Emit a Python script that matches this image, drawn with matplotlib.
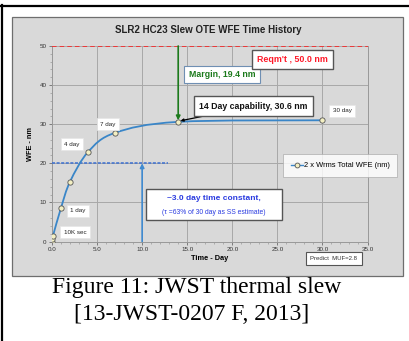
import matplotlib
matplotlib.use("Agg")
import matplotlib.pyplot as plt
from matplotlib.patches import Rectangle, PathPatch
from matplotlib.path import Path
from matplotlib.lines import Line2D

# data
days = [0.0, 0.02, 0.116, 1.0, 2.0, 4.0, 7.0, 14.0, 30.0]
wfe = [0.0, 0.6, 1.5, 8.6, 15.3, 22.9, 27.8, 30.6, 31.0]
x_ticks = [0, 5, 10, 15, 20, 25, 30, 35]
y_ticks = [0, 10, 20, 30, 40, 50]
reqmt = 50.0
tau_level = 20.0
tau_day = 10.0
cap_day = 14.0
cap_val = 30.6

W, H = 409, 341
plt.rcParams['font.family'] = ['Liberation Sans', 'DejaVu Sans']

fig = plt.figure(figsize=(W / 100, H / 100), dpi=100)
fig.patch.set_facecolor('white')


def fx(px):
    return px / W


def fy(py):
    return 1 - py / H


# outer frame lines (left and top)
fig.add_artist(Line2D([fx(1.5), fx(1.5)], [fy(5), 0], color='black', lw=1.6))
fig.add_artist(Line2D([0, fx(408)], [fy(6), fy(6)], color='black', lw=1.6))

# gray chart panel
fig.add_artist(Rectangle((fx(12), fy(276)), fx(403) - fx(12), fy(17) - fy(276),
                         facecolor='#d9d9d9', edgecolor='#6e6e6e', lw=0.9,
                         transform=fig.transFigure, zorder=0))

ax = fig.add_axes([fx(52), fy(241.5), fx(367.5) - fx(52), fy(46) - fy(241.5)])
ax.set_facecolor('#d9d9d9')
ax.set_xlim(0, 35)
ax.set_ylim(0, 50)
ax.set_xticks(x_ticks)
ax.set_xticklabels([f'{v:.1f}' for v in x_ticks])
ax.set_yticks(y_ticks)
ax.set_xticks(range(0, 36), minor=True)
ax.set_yticks(range(0, 51, 2), minor=True)
ax.tick_params(which='major', labelsize=4.5, colors='#555555', labelcolor='#333333',
               length=2, width=0.5, pad=2)
ax.tick_params(which='minor', length=1.4, width=0.4, colors='#888888')
ax.grid(True, which='major', color='#a8a8a8', lw=0.7)
for s in ['left', 'bottom', 'right']:
    ax.spines[s].set_color('#999999')
    ax.spines[s].set_linewidth(0.7)
ax.spines['top'].set_visible(False)
ax.set_axisbelow(True)

ax.set_xlabel('Time - Day', fontsize=5.3, fontweight='bold', labelpad=2)
ax.set_ylabel('WFE - nm', fontsize=5.3, fontweight='bold', labelpad=4)

fig.text(fx(208), fy(30), 'SLR2 HC23 Slew OTE WFE Time History', ha='center',
         va='center', fontsize=7, fontweight='bold', color='#222222')

# requirement line
ax.axhline(reqmt, color='#ff1a1a', lw=1.1, ls=(0, (3, 2)), zorder=3)

# smoothed curve (Catmull-Rom style Bezier through the points, like Excel)
pts = list(zip(days, wfe))
verts = [pts[0]]
codes = [Path.MOVETO]
n = len(pts)
for i in range(n - 1):
    p0 = pts[i - 1] if i > 0 else pts[i]
    p1 = pts[i]
    p2 = pts[i + 1]
    p3 = pts[i + 2] if i + 2 < n else pts[i + 1]
    c1 = (p1[0] + (p2[0] - p0[0]) / 6, p1[1] + (p2[1] - p0[1]) / 6)
    c2 = (p2[0] - (p3[0] - p1[0]) / 6, p2[1] - (p3[1] - p1[1]) / 6)
    verts += [c1, c2, p2]
    codes += [Path.CURVE4] * 3
curve_color = '#3a86c8'
ax.add_patch(PathPatch(Path(verts, codes), facecolor='none', edgecolor=curve_color,
                       lw=1.3, zorder=4))
ax.plot(days, wfe, 'o', ms=3.8, mfc='#f3efc2', mec='#555555', mew=0.6, zorder=5)

handle = Line2D([], [], color=curve_color, lw=1.0, marker='o', ms=3.5,
                mfc='#f3efc2', mec='#555555', mew=0.6)
leg = ax.legend([handle], ['2 x Wrms Total WFE (nm)'], loc='center left',
                bbox_to_anchor=(fx(283), fy(165.5)), bbox_transform=fig.transFigure,
                fontsize=5.4, frameon=True, fancybox=False, handlelength=1.6,
                handletextpad=0.2, borderpad=1.0, borderaxespad=0)
leg.get_frame().set_edgecolor('#aaaaaa')
leg.get_frame().set_linewidth(0.6)
leg.get_frame().set_facecolor('white')
leg.set_zorder(10)

# time constant
ax.plot([0, 12.9], [tau_level, tau_level], color='#3b6fd1', lw=1.1, ls=(0, (2, 1)), zorder=3)
ax.annotate('', xy=(tau_day, tau_level), xytext=(tau_day, 0),
            arrowprops=dict(arrowstyle='-|>', color='#3f8ad0', lw=1.2,
                            mutation_scale=6, shrinkA=0, shrinkB=0), zorder=4)
ax.add_patch(Rectangle(((146 - 52) / 9.014, (241.5 - 220) / 3.91),
                       (282 - 146) / 9.014, (220 - 189) / 3.91,
                       facecolor='white', edgecolor='#555555', lw=1.0, zorder=6))
ax.text(17.97, 11.1, '~3.0 day time constant,', ha='center', va='center',
        fontsize=6.0, fontweight='bold', color='#2a3be0', zorder=7)
ax.text(17.97, 7.4, '(τ =63% of 30 day as SS estimate)', ha='center', va='center',
        fontsize=4.9, color='#2a3be0', zorder=7)

# margin arrow
ax.annotate('', xy=(cap_day, cap_val + 0.4), xytext=(cap_day, reqmt),
            arrowprops=dict(arrowstyle='-|>', color='#1c7a1c', lw=1.2,
                            mutation_scale=6, shrinkA=0, shrinkB=0), zorder=6)
ax.text(18.86, 42.7, 'Margin, 19.4 nm', ha='center', va='center', fontsize=6.3,
        fontweight='bold', color='#1c7a1c', zorder=7,
        bbox=dict(boxstyle='square,pad=0.5', facecolor='white', edgecolor='#6f8fb3', lw=0.8))
ax.text(26.7, 46.5, "Reqm't , 50.0 nm", ha='center', va='center', fontsize=6.4,
        fontweight='bold', color='#ff1a2a', zorder=7,
        bbox=dict(boxstyle='square,pad=0.55', facecolor='white', edgecolor='#555555', lw=1.0))
ax.annotate('14 Day capability, 30.6 nm', xy=(cap_day + 0.1, cap_val + 0.2),
            xytext=(22.35, 34.65), ha='center', va='center', fontsize=6.3,
            fontweight='bold', color='#111111', zorder=7,
            bbox=dict(boxstyle='square,pad=0.6', facecolor='white', edgecolor='#555555', lw=1.0),
            arrowprops=dict(arrowstyle='-|>', color='black', lw=0.9, mutation_scale=4,
                            shrinkA=0, shrinkB=1))

# point labels
small_box = dict(boxstyle='square,pad=0.55', facecolor='white', edgecolor='#e6e6e6', lw=0.5)
labels = [('30 day', 32.2, 33.4), ('7 day', 6.2, 30.0), ('4 day', 2.2, 24.9),
          ('1 day', 2.85, 7.9), ('10K sec', 2.55, 2.35)]
for txt, lx, ly in labels:
    ax.text(lx, ly, txt, ha='center', va='center', fontsize=4.5, color='#222222',
            zorder=7, bbox=small_box)

fig.text(fx(334), fy(258.5), 'Predict  MUF=2.8', ha='center', va='center', fontsize=4.3,
         color='#333333',
         bbox=dict(boxstyle='square,pad=0.7', facecolor='white', edgecolor='#555555', lw=0.8))

# caption
cap_font = ['Liberation Serif', 'DejaVu Serif']
fig.text(fx(197), fy(287.5), 'Figure 11: JWST thermal slew', ha='center', va='center',
         fontsize=17, family=cap_font)
fig.text(fx(192), fy(314), '[13-JWST-0207 F, 2013]', ha='center', va='center',
         fontsize=17, family=cap_font)

fig.savefig('out.png', dpi=100)
